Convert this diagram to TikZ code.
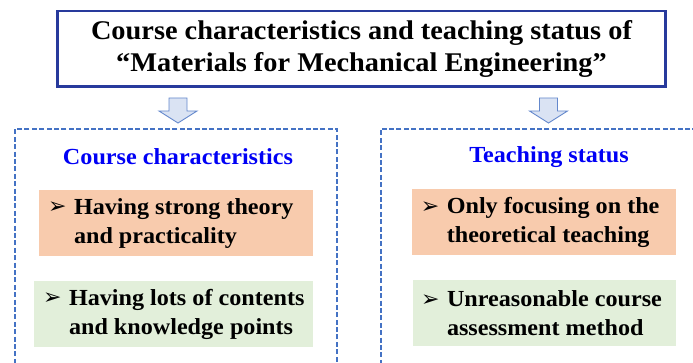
\documentclass[tikz,border=0pt]{standalone}
\usepackage{fontspec}
\setmainfont[FakeStretch=1.05]{Liberation Serif}
\newfontfamily\symfont{DejaVu Sans}
\definecolor{titleblue}{RGB}{40,58,156}
\definecolor{dashblue}{RGB}{68,114,196}
\definecolor{headblue}{RGB}{0,0,245}
\definecolor{orangefill}{RGB}{248,203,173}
\definecolor{greenfill}{RGB}{226,239,218}
\definecolor{arrowfill}{RGB}{218,227,243}
\definecolor{arrowline}{RGB}{100,136,204}
\newcommand{\pointmark}{\makebox[26pt][l]{\raisebox{0.5pt}{\symfont\fontsize{22}{22}\selectfont ➢}}}
\tikzset{
  titlebox/.style={draw=titleblue,line width=2.2pt,minimum width=608pt,minimum height=75.5pt,
    align=center,font=\fontsize{27}{31.5}\selectfont\bfseries},
  panel/.style={draw=dashblue,line width=2pt,dash pattern=on 5pt off 2.4pt,
    minimum width=322pt,minimum height=251pt},
  heading/.style={text=headblue,font=\fontsize{23}{26}\selectfont\bfseries},
  pointbox/.style={minimum height=66pt,minimum width=#1,inner sep=0pt},
  pointtext/.style={anchor=west,align=left,inner sep=0pt,font=\fontsize{23}{29}\selectfont\bfseries},
  blockarrow/.style={draw=arrowline,fill=arrowfill,line width=0.9pt,line join=miter}
}
\begin{document}
\begin{tikzpicture}[x=1pt,y=-1pt]
  \useasboundingbox (0,0) rectangle (693,363);
  \clip (0,0) rectangle (693,363);

  % title
  \node[titlebox] (title) at (361.5,48.8)
    {Course characteristics and teaching status of\\“Materials for Mechanical Engineering”};

  % the two panels
  \node[panel] (panelL) at (176,254.5) {};
  \node[panel,minimum width=340pt] (panelR) at (550.5,254.5) {};
  \node[heading] (headL) at (178,156.7) {Course characteristics};
  \node[heading] (headR) at (549,156.7) {Teaching status};

  % block arrows
  \coordinate (arrL) at (178,98);
  \coordinate (arrR) at (548.5,98);
  \foreach \a in {arrL,arrR}
    \draw[blockarrow] (\a) ++(-9,0) -- ++(18,0) -- ++(0,13) -- ++(10,0)
      -- ++(-19,12) -- ++(-19,-12) -- ++(10,0) -- cycle;

  % points
  \node[pointbox=274.5pt,fill=orangefill] (p1) at (175.75,223.2) {};
  \node[pointbox=279.5pt,fill=greenfill] (p2) at (173.25,314.4) {};
  \node[pointbox=263.4pt,fill=orangefill] (p3) at (544,222.5) {};
  \node[pointbox=263pt,fill=greenfill] (p4) at (544.5,313.4) {};

  \node[pointtext] (t1) at ([xshift=9.5pt]p1.west)
    {\pointmark Having strong theory\\\hspace*{26pt}and practicality};
  \node[pointtext] (t2) at ([xshift=9.5pt]p2.west)
    {\pointmark Having lots of contents\\\hspace*{26pt}and knowledge points};
  \node[pointtext] (t3) at ([xshift=8.5pt]p3.west)
    {\pointmark Only focusing on the\\\hspace*{26pt}theoretical teaching};
  \node[pointtext] (t4) at ([xshift=8pt]p4.west)
    {\pointmark Unreasonable course\\\hspace*{26pt}assessment method};
\end{tikzpicture}
\end{document}
